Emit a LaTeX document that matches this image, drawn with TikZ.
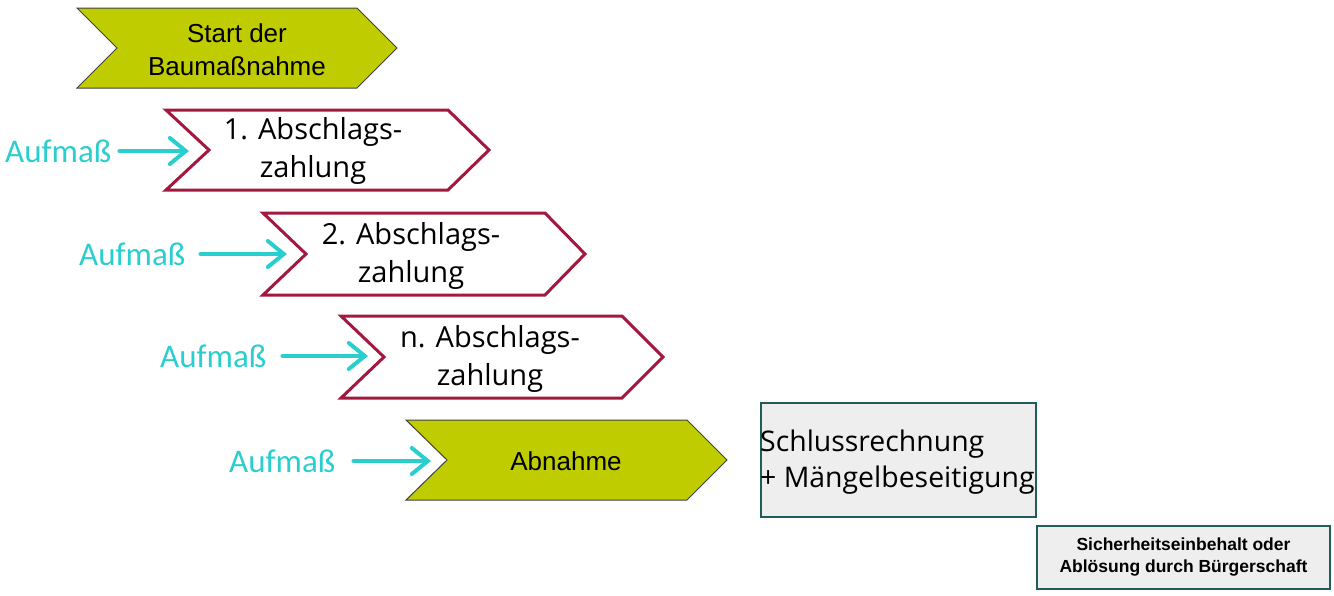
\documentclass[tikz,border=0pt]{standalone}
\usepackage{fontspec}
\setmainfont{Liberation Sans}
\newfontfamily\robo{Open Sans}
\newfontfamily\cali{Carlito}
\usetikzlibrary{arrows.meta}
\definecolor{lime}{RGB}{191,204,0}
\definecolor{wine}{RGB}{163,24,62}
\definecolor{aqua}{RGB}{43,206,206}
\definecolor{tealdark}{RGB}{31,92,90}
\definecolor{boxgray}{RGB}{237,238,237}
\tikzset{
  limechev/.style={fill=lime, draw=black!75, line width=1pt, line join=miter},
  winechev/.style={fill=white, draw=wine, line width=3pt, line join=miter},
  chevtext/.style={font=\robo\fontsize{29}{38}\selectfont, align=center, inner sep=0pt},
  arialtext/.style={font=\fontsize{26}{33}\selectfont, align=center, inner sep=0pt},
  auflabel/.style={font=\cali\fontsize{33}{36}\selectfont, text=aqua, inner sep=0pt, anchor=west},
  aufarrow/.style={draw=aqua, line width=4pt, line cap=round, -{Straight Barb[length=16pt,width=26pt,line cap=round]}},
  graybox/.style={draw=tealdark, fill=boxgray, line width=2pt, inner sep=0pt},
}
\begin{document}
\begin{tikzpicture}[x=1pt,y=-1pt]
\useasboundingbox (0,0) rectangle (1334,595);

% Start chevron
\draw[limechev] (77,8) -- (357,8) -- (397,48) -- (357,88) -- (77,88) -- (117,48) -- cycle;
\node[arialtext] (start) at (237,50) {Start der\\Baumaßnahme};

% 1. Abschlagszahlung
\draw[winechev] (166,110) -- (448,110) -- (489,150) -- (448,190) -- (166,190) -- (209,150) -- cycle;
\coordinate (t1) at (189,151);
\node[chevtext] (c1) at (313,151) {1. Abschlags-\\zahlung};
\node[auflabel] (a1) at (5,151) {Aufmaß};
\draw[aufarrow] ([xshift=8pt]a1.east) -- (t1);

% 2. Abschlagszahlung
\draw[winechev] (263,213) -- (545,213) -- (585,254) -- (545,295) -- (263,295) -- (306,254) -- cycle;
\coordinate (t2) at (287,254);
\node[chevtext] (c2) at (411,256) {2. Abschlags-\\zahlung};
\node[auflabel] (a2) at (79,254) {Aufmaß};
\draw[aufarrow] ([xshift=15pt]a2.east) -- (t2);

% n. Abschlagszahlung
\draw[winechev] (341,316) -- (622,316) -- (663,357) -- (622,398) -- (341,398) -- (384,357) -- cycle;
\coordinate (t3) at (368,356);
\node[chevtext] (c3) at (490,359) {n. Abschlags-\\zahlung};
\node[auflabel] (a3) at (160,356) {Aufmaß};
\draw[aufarrow] ([xshift=16pt]a3.east) -- (t3);

% Abnahme
\draw[limechev] (406,420) -- (687,420) -- (727,460) -- (687,500) -- (406,500) -- (447,460) -- cycle;
\coordinate (t4) at (431,461);
\node[arialtext] (abn) at (566,461) {Abnahme};
\node[auflabel] (a4) at (229,461) {Aufmaß};
\draw[aufarrow] ([xshift=18pt]a4.east) -- (t4);

% boxes
\node[graybox, minimum width=275pt, minimum height=114pt] (schluss) at (898.5,460) {};
\node[inner sep=0pt, anchor=west, align=left,
      font=\robo\fontsize{28.4}{36}\selectfont] (schlusstext) at ([yshift=-2pt]schluss.west)
      {Schlussrechnung\\+ Mängelbeseitigung};
\node[graybox, minimum width=293pt, minimum height=63pt, align=center,
      font=\bfseries\fontsize{17.5}{22}\selectfont] (sicher) at (1183.5,557.5)
      {Sicherheitseinbehalt oder\\Ablösung durch Bürgerschaft};
\end{tikzpicture}
\end{document}
